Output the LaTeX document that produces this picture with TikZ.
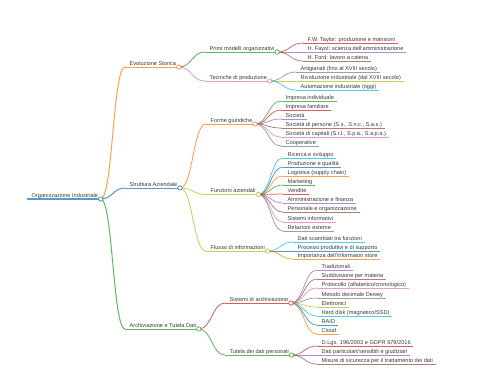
\documentclass[tikz,border=0pt]{standalone}
\usepackage{fontspec}
\setmainfont{Liberation Sans}
\usetikzlibrary{calc}
\definecolor{cA}{HTML}{1F77B4}
\definecolor{cB}{HTML}{FF7F0E}
\definecolor{cC}{HTML}{2CA02C}
\definecolor{cD}{HTML}{D62728}
\definecolor{cE}{HTML}{9467BD}
\definecolor{cF}{HTML}{8C564B}
\definecolor{cG}{HTML}{E377C2}
\definecolor{cH}{HTML}{7F7F7F}
\definecolor{cI}{HTML}{BCBD22}
\definecolor{cJ}{HTML}{17BECF}
\definecolor{txtc}{HTML}{3A3A3A}
\tikzset{
  mmtext/.style={anchor=base west, inner sep=0pt, font=\fontsize{5.6}{6.5}\selectfont, text=txtc},
  mmline/.style={draw opacity=0.75},
}
\newcommand\mmnode[6]{%
  \coordinate (#1s) at (#2,#3);
  \node[mmtext] (#1) at ($(#1s)+(4.5,-2)$) {#6};
  \coordinate (#1e) at ($(#1.base east |- #1s)+(2.5,0)$);
  \draw[mmline, #4, line width=#5] (#1s) -- (#1e);
}
\newcommand\mmlink[4]{%
  \coordinate (mid) at ($(#1e)!0.5!(#2s)$);
  \draw[mmline, #3, line width=#4] (#1e) .. controls (mid |- #1e) and (mid |- #2s) .. (#2s);
}
\newcommand\mmdot[2]{\draw[#2, draw opacity=0.85, line width=0.7pt, fill=white] (#1e) circle[radius=2.2pt];}
\begin{document}
\begin{tikzpicture}[x=1pt,y=-1pt]
\useasboundingbox (0,0) rectangle (480,384);
% root
\mmnode{root}{27}{199}{cA}{1.3pt}{Organizzazione Industriale}
% level 1
\mmnode{ev}{125}{67}{cB}{1pt}{Evoluzione Storica}
\mmnode{sa}{125}{188}{cA}{1pt}{Struttura Aziendale}
\mmnode{at}{125}{329}{cC}{1pt}{Archiviazione e Tutela Dati}
% level 2
\mmnode{pm}{205}{52}{cC}{0.85pt}{Primi modelli organizzativi}
\mmnode{tp}{205}{81}{cG}{0.85pt}{Tecniche di produzione}
\mmnode{fg}{206}{124}{cB}{0.85pt}{Forme giuridiche}
\mmnode{fz}{206}{194.5}{cI}{0.85pt}{Funzioni aziendali}
\mmnode{fi}{206}{251}{cI}{0.85pt}{Flusso di informazioni}
\mmnode{sy}{225}{303}{cD}{0.85pt}{Sistemi di archiviazione}
\mmnode{tu}{225}{355}{cC}{0.85pt}{Tutela dei dati personali}
% level 3
\mmnode{ta}{303}{43}{cD}{0.75pt}{F.W. Taylor: produzione e mansioni}
\mmnode{fa}{303}{52}{cE}{0.75pt}{H. Fayol: scienza dell'amministrazione}
\mmnode{fo}{303}{61}{cF}{0.75pt}{H. Ford: lavoro a catena}
\mmnode{ar}{296}{72}{cH}{0.75pt}{Artigianali (fino al XVIII secolo)}
\mmnode{ri}{296}{81}{cI}{0.75pt}{Rivoluzione industriale (dal XVIII secolo)}
\mmnode{au}{296}{90}{cJ}{0.75pt}{Automazione industriale (oggi)}
\mmnode{ii}{281}{101}{cC}{0.75pt}{Impresa individuale}
\mmnode{if}{281}{110}{cD}{0.75pt}{Impresa familiare}
\mmnode{so}{281}{119}{cE}{0.75pt}{Società}
\mmnode{sp}{281}{128}{cF}{0.75pt}{Società di persone (S.s., S.n.c., S.a.s.)}
\mmnode{sc}{281}{137}{cG}{0.75pt}{Società di capitali (S.r.l., S.p.a., S.a.p.a.)}
\mmnode{co}{281}{146}{cH}{0.75pt}{Cooperative}
\mmnode{rs}{283}{158}{cJ}{0.75pt}{Ricerca e sviluppo}
\mmnode{pq}{283}{167}{cA}{0.75pt}{Produzione e qualità}
\mmnode{lo}{283}{176}{cB}{0.75pt}{Logistica (supply chain)}
\mmnode{mk}{283}{185}{cC}{0.75pt}{Marketing}
\mmnode{ve}{283}{194}{cD}{0.75pt}{Vendite}
\mmnode{af}{283}{203}{cE}{0.75pt}{Amministrazione e finanza}
\mmnode{po}{283}{212}{cF}{0.75pt}{Personale e organizzazione}
\mmnode{si}{283}{222}{cG}{0.75pt}{Sistemi informativi}
\mmnode{re}{283}{231}{cH}{0.75pt}{Relazioni esterne}
\mmnode{ds}{293}{242}{cJ}{0.75pt}{Dati scambiati tra funzioni}
\mmnode{pp}{293}{251}{cA}{0.75pt}{Processi produttivi e di supporto}
\mmnode{is}{293}{259}{cB}{0.75pt}{Importanza dell'informaion store}
\mmnode{tr}{317}{270}{cE}{0.75pt}{Tradizionali}
\mmnode{sm}{317}{279}{cF}{0.75pt}{Suddivisione per materia}
\mmnode{pr}{317}{288}{cG}{0.75pt}{Protocollo (alfabetico/cronologico)}
\mmnode{md}{317}{298}{cH}{0.75pt}{Metodo decimale Dewey}
\mmnode{el}{317}{307}{cI}{0.75pt}{Elettronici}
\mmnode{hd}{317}{316}{cJ}{0.75pt}{Hard disk (magnetico/SSD)}
\mmnode{rd}{317}{325}{cA}{0.75pt}{RAID}
\mmnode{cl}{317}{334}{cB}{0.75pt}{Cloud}
\mmnode{dl}{317}{346}{cD}{0.75pt}{D.Lgs. 196/2003 e GDPR 679/2016}
\mmnode{dp}{317}{355}{cE}{0.75pt}{Dati particolari/sensibili e giudiziari}
\mmnode{ms}{317}{364}{cF}{0.75pt}{Misure di sicurezza per il trattamento dei dati}
% links
\mmlink{root}{ev}{cB}{1pt}
\mmlink{root}{sa}{cA}{1pt}
\mmlink{root}{at}{cC}{1pt}
\mmlink{ev}{pm}{cC}{0.85pt}
\mmlink{ev}{tp}{cG}{0.85pt}
\mmlink{sa}{fg}{cB}{0.85pt}
\mmlink{sa}{fz}{cI}{0.85pt}
\mmlink{sa}{fi}{cI}{0.85pt}
\mmlink{at}{sy}{cD}{0.85pt}
\mmlink{at}{tu}{cC}{0.85pt}
\foreach \c/\k in {ta/cD,fa/cE,fo/cF}{\mmlink{pm}{\c}{\k}{0.75pt}}
\foreach \c/\k in {ar/cH,ri/cI,au/cJ}{\mmlink{tp}{\c}{\k}{0.75pt}}
\foreach \c/\k in {ii/cC,if/cD,so/cE,sp/cF,sc/cG,co/cH}{\mmlink{fg}{\c}{\k}{0.75pt}}
\foreach \c/\k in {rs/cJ,pq/cA,lo/cB,mk/cC,ve/cD,af/cE,po/cF,si/cG,re/cH}{\mmlink{fz}{\c}{\k}{0.75pt}}
\foreach \c/\k in {ds/cJ,pp/cA,is/cB}{\mmlink{fi}{\c}{\k}{0.75pt}}
\foreach \c/\k in {tr/cE,sm/cF,pr/cG,md/cH,el/cI,hd/cJ,rd/cA,cl/cB}{\mmlink{sy}{\c}{\k}{0.75pt}}
\foreach \c/\k in {dl/cD,dp/cE,ms/cF}{\mmlink{tu}{\c}{\k}{0.75pt}}
% circles
\mmdot{root}{cA}
\mmdot{ev}{cB}
\mmdot{sa}{cA}
\mmdot{at}{cC}
\mmdot{pm}{cC}
\mmdot{tp}{cG}
\mmdot{fg}{cB}
\mmdot{fz}{cI}
\mmdot{fi}{cI}
\mmdot{sy}{cD}
\mmdot{tu}{cC}
\end{tikzpicture}
\end{document}
